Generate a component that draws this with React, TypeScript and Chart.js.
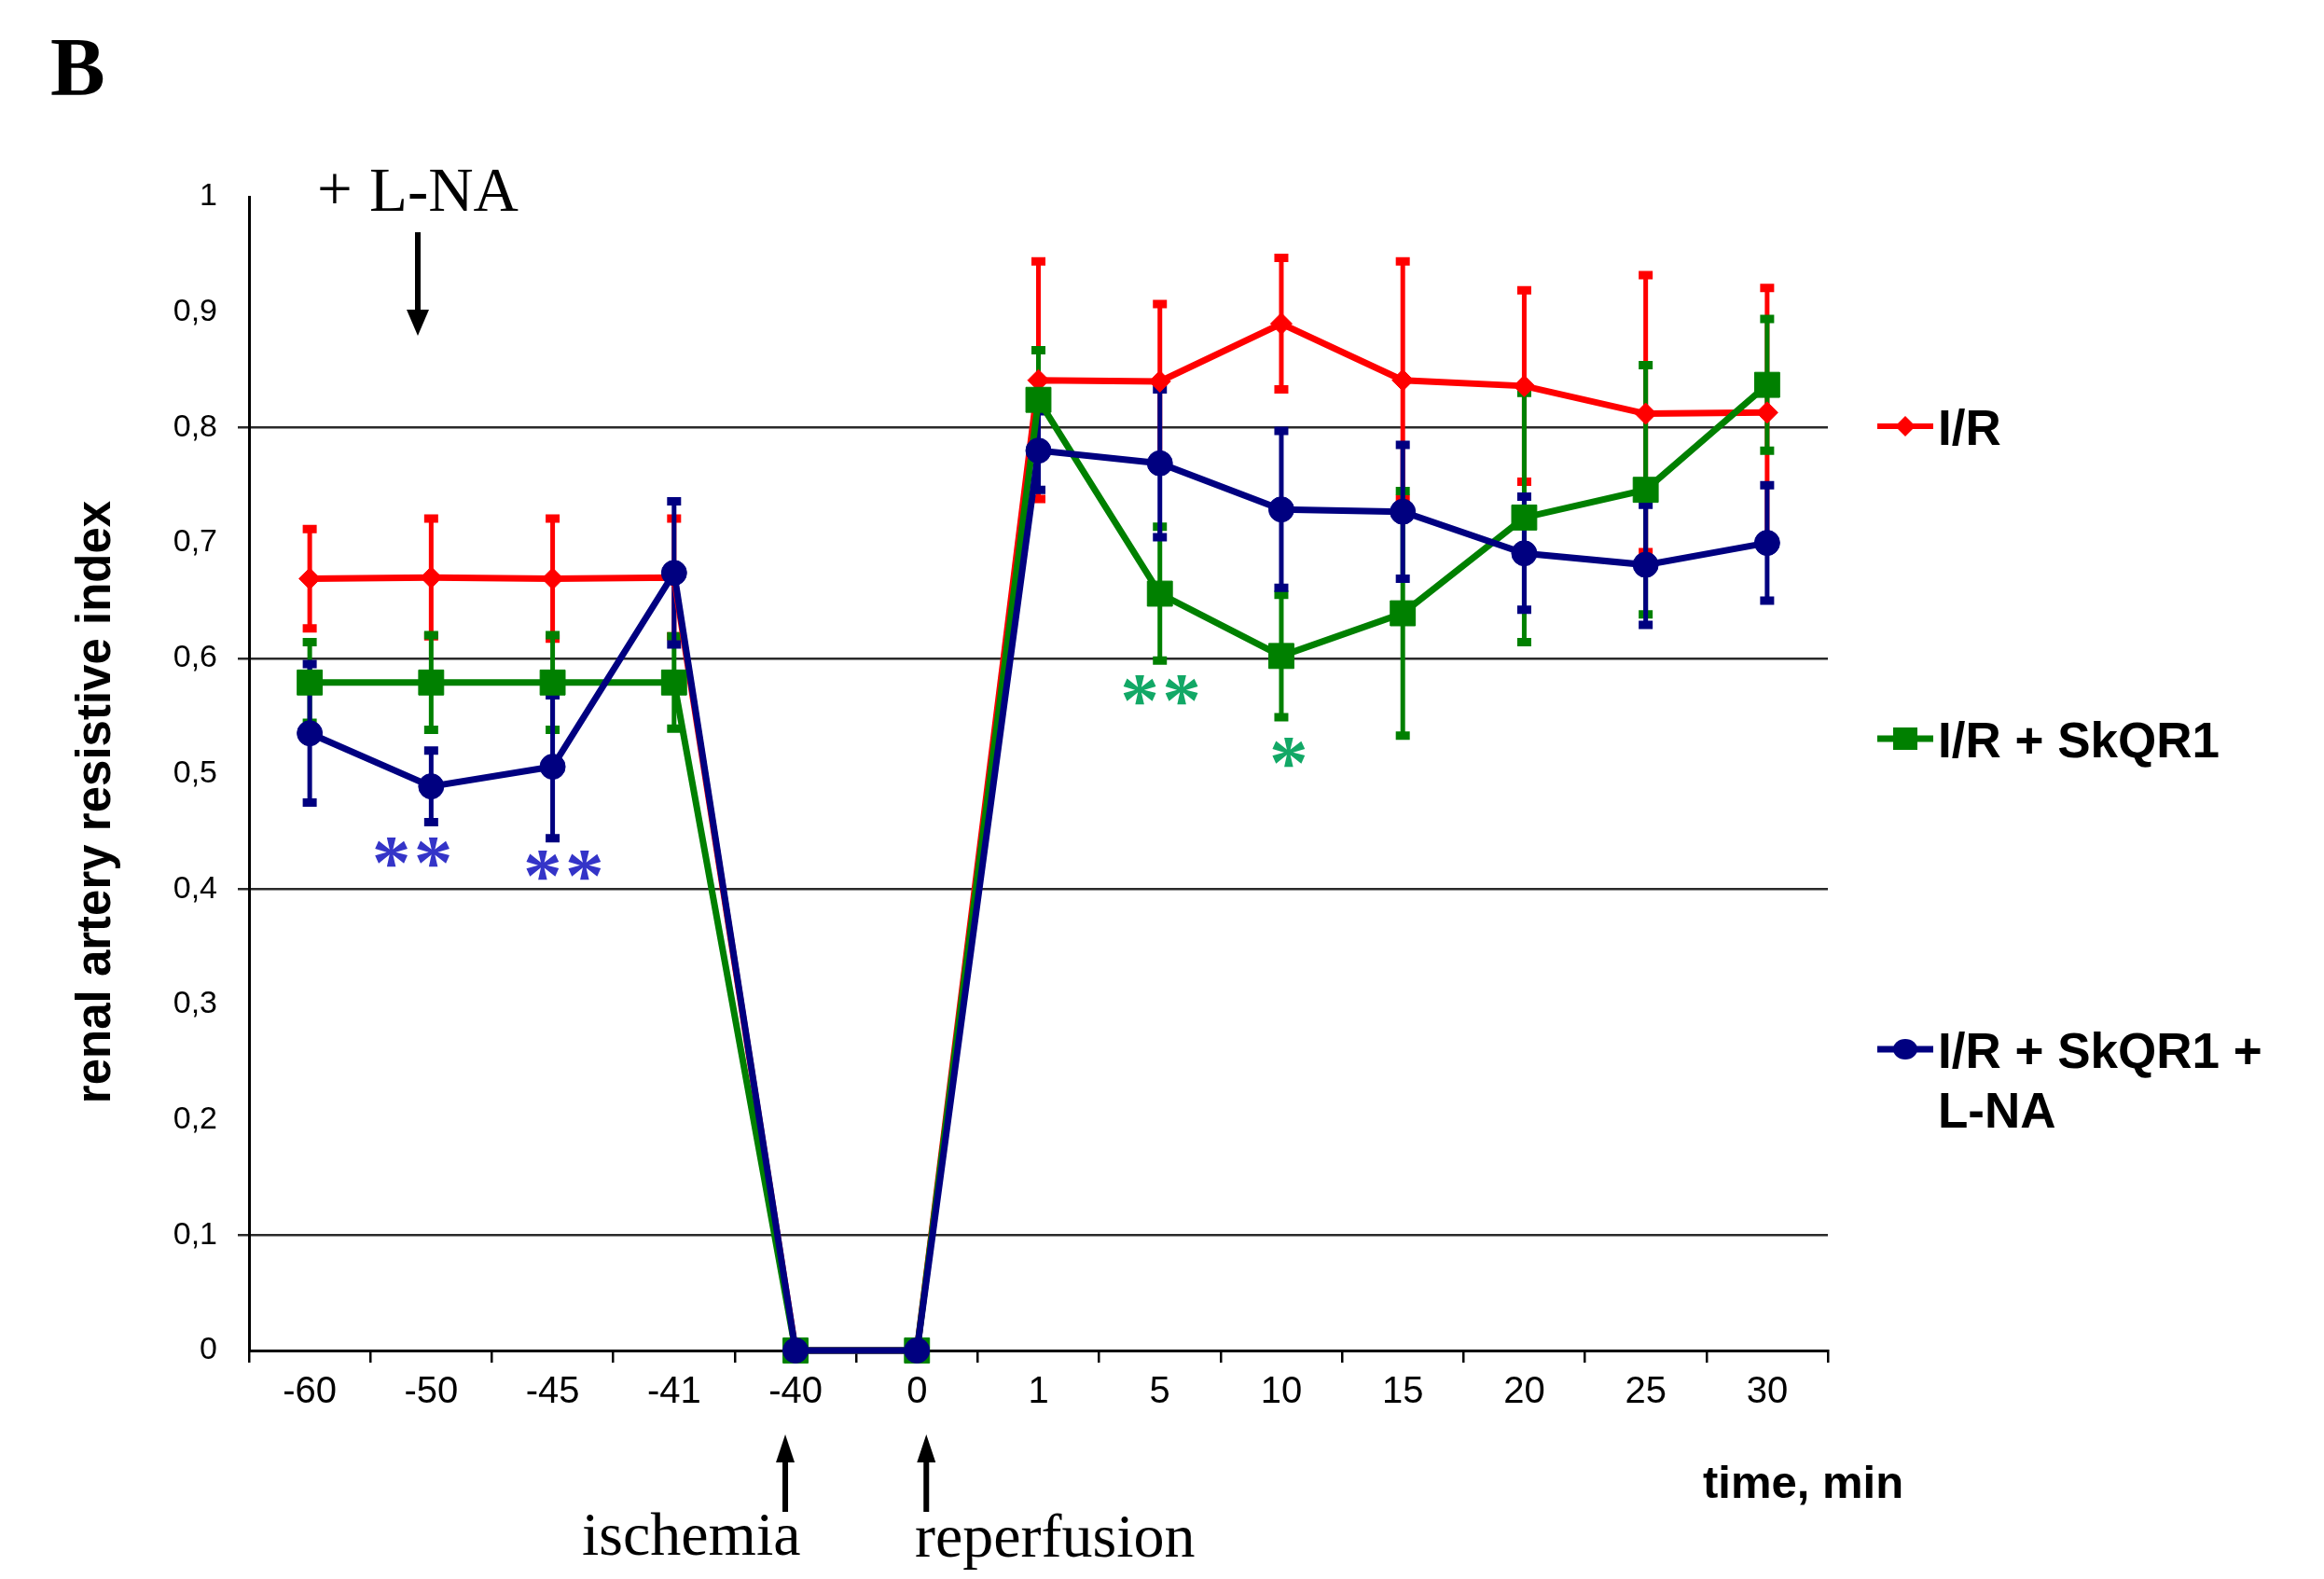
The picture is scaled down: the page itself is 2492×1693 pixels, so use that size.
import React, { useEffect, useRef } from 'react';
import { Chart, registerables } from 'chart.js';

Chart.register(...registerables);

// ---- data ----
const timeLabels = ['-60', '-50', '-45', '-41', '-40', '0', '1', '5', '10', '15', '20', '25', '30'];

const irValues = [0.669, 0.670, 0.669, 0.670, 0, 0, 0.841, 0.840, 0.890, 0.841, 0.836, 0.812, 0.813];
const irErrors = [0.043, 0.051, 0.052, 0.051, 0, 0, 0.103, 0.067, 0.057, 0.103, 0.083, 0.120, 0.108];

const skqValues = [0.579, 0.579, 0.579, 0.579, 0, 0, 0.824, 0.656, 0.602, 0.639, 0.722, 0.746, 0.837];
const skqErrors = [0.035, 0.041, 0.041, 0.040, 0, 0, 0.043, 0.058, 0.053, 0.106, 0.108, 0.108, 0.057];

const lnaValues = [0.535, 0.489, 0.506, 0.674, 0, 0, 0.780, 0.769, 0.729, 0.727, 0.691, 0.681, 0.700];
const lnaErrors = [0.060, 0.031, 0.062, 0.062, 0, 0, 0.034, 0.064, 0.068, 0.058, 0.049, 0.052, 0.050];

const seriesNames = ['I/R', 'I/R + SkQR1', 'I/R + SkQR1 + L-NA'];
const seriesColors = ['#FF0000', '#008000', '#000080'];

const yGridValues = [0.1, 0.4, 0.6, 0.8];

// significance marks: category, level (y value), text
const starCategories = ['-50', '-45', '5', '10'];
const starLevels = [0.432, 0.420, 0.572, 0.518];
const starTexts = ['**', '**', '**', '*'];
const starColors = ['#3434c8', '#3434c8', '#12a866', '#12a866'];
const starShift = [-20, 12, 1, 8];

const SANS = "'Liberation Sans', Arial, Helvetica, sans-serif";
const SERIF = "'Liberation Serif', 'Times New Roman', Times, serif";

const errorBarPlugin = {
  id: 'errorBars',
  beforeDatasetsDraw(chart: any) {
    const { ctx } = chart;
    const x = chart.scales.x;
    const y = chart.scales.y;
    const sets: [number[], number[], string][] = [
      [irValues, irErrors, seriesColors[0]],
      [skqValues, skqErrors, seriesColors[1]],
      [lnaValues, lnaErrors, seriesColors[2]],
    ];
    ctx.save();
    ctx.lineCap = 'butt';
    for (const [vals, errs, color] of sets) {
      ctx.strokeStyle = color;
      vals.forEach((v, i) => {
        const e = errs[i];
        if (!e) return;
        const px = x.getPixelForValue(i);
        const top = y.getPixelForValue(v + e);
        const bot = y.getPixelForValue(v - e);
        ctx.lineWidth = 5;
        ctx.beginPath();
        ctx.moveTo(px, top);
        ctx.lineTo(px, bot);
        ctx.stroke();
        ctx.lineWidth = 9;
        ctx.beginPath();
        ctx.moveTo(px - 7.5, top);
        ctx.lineTo(px + 7.5, top);
        ctx.moveTo(px - 7.5, bot);
        ctx.lineTo(px + 7.5, bot);
        ctx.stroke();
      });
    }
    ctx.restore();
  },
};

function drawStar(ctx: CanvasRenderingContext2D, cx: number, cy: number, color: string) {
  ctx.font = `bold 100px ${SERIF}`;
  let m = ctx.measureText('*');
  const w100 = m.actualBoundingBoxLeft + m.actualBoundingBoxRight;
  const size = (100 * 35) / (w100 || 40);
  ctx.font = `bold ${size}px ${SERIF}`;
  m = ctx.measureText('*');
  ctx.fillStyle = color;
  ctx.textAlign = 'left';
  ctx.textBaseline = 'alphabetic';
  const x = cx - (m.actualBoundingBoxRight - m.actualBoundingBoxLeft) / 2;
  const y = cy + (m.actualBoundingBoxAscent - m.actualBoundingBoxDescent) / 2;
  ctx.fillText('*', x, y);
}

function drawDownArrow(ctx: CanvasRenderingContext2D, x: number, y0: number, y1: number) {
  ctx.save();
  ctx.strokeStyle = '#000';
  ctx.fillStyle = '#000';
  ctx.lineWidth = 6;
  ctx.beginPath();
  ctx.moveTo(x, y0);
  ctx.lineTo(x, y1 - 20);
  ctx.stroke();
  ctx.beginPath();
  ctx.moveTo(x - 12, y1 - 28);
  ctx.lineTo(x + 12, y1 - 28);
  ctx.lineTo(x, y1);
  ctx.closePath();
  ctx.fill();
  ctx.restore();
}

function drawUpArrow(ctx: CanvasRenderingContext2D, x: number, y0: number, y1: number) {
  // y0 = tip (top), y1 = bottom of shaft
  ctx.save();
  ctx.strokeStyle = '#000';
  ctx.fillStyle = '#000';
  ctx.lineWidth = 6;
  ctx.beginPath();
  ctx.moveTo(x, y1);
  ctx.lineTo(x, y0 + 20);
  ctx.stroke();
  ctx.beginPath();
  ctx.moveTo(x, y0);
  ctx.lineTo(x + 10, y0 + 30);
  ctx.lineTo(x - 10, y0 + 30);
  ctx.closePath();
  ctx.fill();
  ctx.restore();
}

function drawLegendMarker(ctx: CanvasRenderingContext2D, i: number, cx: number, cy: number) {
  ctx.fillStyle = seriesColors[i];
  ctx.beginPath();
  if (i === 0) {
    ctx.moveTo(cx - 11, cy);
    ctx.lineTo(cx, cy - 11);
    ctx.lineTo(cx + 11, cy);
    ctx.lineTo(cx, cy + 11);
    ctx.closePath();
  } else if (i === 1) {
    ctx.rect(cx - 13, cy - 12, 26, 24);
  } else {
    ctx.ellipse(cx, cy, 13, 11, 0, 0, Math.PI * 2);
  }
  ctx.fill();
}

const annotationPlugin = {
  id: 'annotations',
  afterDraw(chart: any) {
    const { ctx } = chart;
    const x = chart.scales.x;
    const y = chart.scales.y;
    ctx.save();

    // panel letter
    ctx.fillStyle = '#000';
    ctx.textAlign = 'left';
    ctx.textBaseline = 'alphabetic';
    ctx.font = `bold 88px ${SERIF}`;
    ctx.fillText('B', 54, 101);

    // + L-NA
    ctx.font = `67px ${SERIF}`;
    ctx.fillText('+', 340, 225);
    ctx.fillText('L-NA', 396, 226);
    drawDownArrow(ctx, 448, 249, 360);

    // ischemia / reperfusion
    ctx.font = `66px ${SERIF}`;
    ctx.fillText('ischemia', 624, 1667);
    ctx.fillText('reperfusion', 981, 1669);
    drawUpArrow(ctx, x.getPixelForValue(4) - 11, 1538, 1621);
    drawUpArrow(ctx, x.getPixelForValue(5) + 10, 1538, 1621);

    // x title
    ctx.font = `bold 49px ${SANS}`;
    ctx.fillText('time, min', 1826, 1606);

    // y title
    ctx.save();
    ctx.translate(118, 860);
    ctx.rotate(-Math.PI / 2);
    ctx.font = `bold 51px ${SANS}`;
    ctx.textAlign = 'center';
    ctx.fillText('renal artery resistive index', 0, 0);
    ctx.restore();

    // legend
    const legendY = [457, 792, 1125];
    const legendLines = [['I/R'], ['I/R + SkQR1'], ['I/R + SkQR1 +', 'L-NA']];
    legendY.forEach((ly, i) => {
      ctx.strokeStyle = seriesColors[i];
      ctx.lineWidth = i === 0 ? 6 : 7;
      ctx.beginPath();
      ctx.moveTo(2013, ly);
      ctx.lineTo(2073, ly);
      ctx.stroke();
      drawLegendMarker(ctx, i, 2043, ly);
      ctx.fillStyle = '#000';
      ctx.font = `bold 53px ${SANS}`;
      ctx.textAlign = 'left';
      ctx.textBaseline = 'alphabetic';
      legendLines[i].forEach((t, k) => ctx.fillText(t, 2078, ly + 20 + k * 64));
    });

    // significance asterisks
    starCategories.forEach((cat, i) => {
      const idx = timeLabels.indexOf(cat);
      const cx = x.getPixelForValue(idx) + starShift[i];
      const cy = y.getPixelForValue(starLevels[i]);
      const n = starTexts[i].length;
      for (let k = 0; k < n; k++) {
        drawStar(ctx, cx + (k - (n - 1) / 2) * 45, cy, starColors[i]);
      }
    });

    ctx.restore();
  },
};

export default function App() {
  const canvasRef = useRef<HTMLCanvasElement | null>(null);

  useEffect(() => {
    document.body.style.margin = '0';
    document.body.style.overflow = 'hidden';
    const canvas = canvasRef.current;
    if (!canvas) return;
    Chart.defaults.font.family = SANS;

    const makeSet = (i: number, data: number[], style: string, radius: number, order: number) => ({
      label: seriesNames[i],
      data,
      borderColor: seriesColors[i],
      backgroundColor: seriesColors[i],
      pointBackgroundColor: seriesColors[i],
      pointBorderColor: seriesColors[i],
      pointBorderWidth: 1,
      borderWidth: 7,
      pointStyle: style,
      pointRadius: radius,
      pointHoverRadius: radius,
      tension: 0,
      fill: false,
      clip: false,
      order,
    });

    const chart = new Chart(canvas, {
      type: 'line',
      data: {
        labels: timeLabels,
        datasets: [
          makeSet(0, irValues, 'rectRot', 11.5, 3),
          makeSet(1, skqValues, 'rect', 19, 2),
          makeSet(2, lnaValues, 'circle', 13.5, 1),
        ] as any,
      },
      options: {
        responsive: false,
        animation: false,
        devicePixelRatio: 1,
        layout: { padding: { top: 211, right: 532, left: 0, bottom: 0 } },
        plugins: {
          legend: { display: false },
          tooltip: { enabled: false },
          title: { display: false },
        },
        events: [],
        scales: {
          x: {
            type: 'category',
            offset: true,
            grid: {
              display: true,
              drawOnChartArea: false,
              drawTicks: true,
              tickLength: 13,
              offset: true,
              color: '#000',
              lineWidth: 2.5,
            },
            border: { display: true, color: '#000', width: 3 },
            ticks: {
              color: '#000',
              font: { family: SANS, size: 40 },
              padding: 8,
              maxRotation: 0,
              minRotation: 0,
              autoSkip: false,
            },
            afterFit: (s: any) => {
              s.height = 245;
            },
          },
          y: {
            min: 0,
            max: 1,
            grid: {
              color: (c: any) =>
                c.tick && yGridValues.some((g) => Math.abs(g - c.tick.value) < 1e-6) ? '#2a2a2a' : 'rgba(0,0,0,0)',
              lineWidth: 2.5,
              drawTicks: true,
              tickLength: 12,
            },
            border: { display: true, color: '#000', width: 3 },
            ticks: {
              stepSize: 0.1,
              color: '#000',
              font: { family: SANS, size: 34 },
              padding: 22,
              callback: (v: any) => {
                const n = Number(v);
                if (Math.abs(n) < 1e-9) return '0';
                if (Math.abs(n - 1) < 1e-9) return '1';
                return n.toFixed(1).replace('.', ',');
              },
            },
            afterFit: (s: any) => {
              s.width = 267;
            },
          },
        },
      } as any,
      plugins: [errorBarPlugin, annotationPlugin],
    });

    return () => chart.destroy();
  }, []);

  return (
    <div style={{ width: 2492, height: 1693, background: '#fff' }}>
      <canvas ref={canvasRef} width={2492} height={1693} style={{ display: 'block' }} />
    </div>
  );
}
